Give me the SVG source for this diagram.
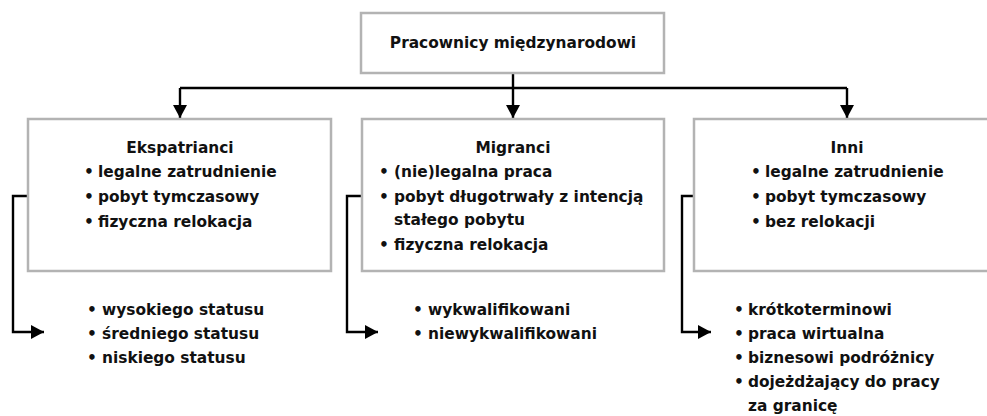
<svg xmlns="http://www.w3.org/2000/svg" width="987" height="416" viewBox="0 0 987 416">
<style>
.box{fill:#fff;stroke:#b3b3b3;stroke-width:2.5}
.t{font-family:"DejaVu Sans",sans-serif;font-weight:bold;font-size:15.4px;fill:#111}
.c{text-anchor:middle}
.b{text-anchor:middle}
.ln{fill:none;stroke:#000;stroke-width:2.4}
</style>
<defs>
<marker id="ah" markerUnits="userSpaceOnUse" viewBox="0 0 13 14" markerWidth="13" markerHeight="14" refX="13" refY="7" orient="auto">
<path d="M0,0 L13,7 L0,14 z" fill="#000"/>
</marker>
</defs>
<rect x="0" y="0" width="987" height="416" fill="#fff"/>
<g id="connectors">
<path class="ln" d="M513,73 V88"/>
<path class="ln" d="M180,88 H847"/>
<path class="ln" d="M180,88 V118" marker-end="url(#ah)"/>
<path class="ln" d="M513,88 V118" marker-end="url(#ah)"/>
<path class="ln" d="M847,88 V118" marker-end="url(#ah)"/>
<path class="ln" d="M28,196 H13 V332 H44" marker-end="url(#ah)"/>
<path class="ln" d="M362,196 H347 V332 H378" marker-end="url(#ah)"/>
<path class="ln" d="M694,196 H682 V332 H711" marker-end="url(#ah)"/>
</g>
<g id="root">
<rect class="box" x="361" y="13" width="303" height="60"/>
<text class="t c" x="513" y="48">Pracownicy międzynarodowi</text>
</g>
<g id="ekspatrianci">
<rect class="box" x="28" y="119" width="303" height="152"/>
<text class="t c" x="180" y="153">Ekspatrianci</text>
<text class="t b" x="89" y="177">•</text><text class="t" x="98" y="177">legalne zatrudnienie</text>
<text class="t b" x="89" y="202">•</text><text class="t" x="98" y="202">pobyt tymczasowy</text>
<text class="t b" x="89" y="227">•</text><text class="t" x="98" y="227">fizyczna relokacja</text>
</g>
<g id="migranci">
<rect class="box" x="362" y="119" width="302" height="152"/>
<text class="t c" x="513" y="153">Migranci</text>
<text class="t b" x="384" y="177">•</text><text class="t" x="394" y="177">(nie)legalna praca</text>
<text class="t b" x="384" y="202">•</text><text class="t" x="394" y="202">pobyt długotrwały z intencją</text>
<text class="t" x="394" y="225">stałego pobytu</text>
<text class="t b" x="384" y="250">•</text><text class="t" x="394" y="250">fizyczna relokacja</text>
</g>
<g id="inni">
<rect class="box" x="694" y="119" width="310" height="152"/>
<text class="t c" x="847" y="153">Inni</text>
<text class="t b" x="756" y="177">•</text><text class="t" x="765" y="177">legalne zatrudnienie</text>
<text class="t b" x="756" y="202">•</text><text class="t" x="765" y="202">pobyt tymczasowy</text>
<text class="t b" x="756" y="227">•</text><text class="t" x="765" y="227">bez relokacji</text>
</g>
<g id="ekspatrianci-typy">
<text class="t b" x="92" y="315">•</text><text class="t" x="102" y="315">wysokiego statusu</text>
<text class="t b" x="92" y="339">•</text><text class="t" x="102" y="339">średniego statusu</text>
<text class="t b" x="92" y="363">•</text><text class="t" x="102" y="363">niskiego statusu</text>
</g>
<g id="migranci-typy">
<text class="t b" x="418" y="315">•</text><text class="t" x="428" y="315">wykwalifikowani</text>
<text class="t b" x="418" y="339">•</text><text class="t" x="428" y="339">niewykwalifikowani</text>
</g>
<g id="inni-typy">
<text class="t b" x="739" y="315">•</text><text class="t" x="748" y="315">krótkoterminowi</text>
<text class="t b" x="739" y="339">•</text><text class="t" x="748" y="339">praca wirtualna</text>
<text class="t b" x="739" y="363">•</text><text class="t" x="748" y="363">biznesowi podróżnicy</text>
<text class="t b" x="739" y="387">•</text><text class="t" x="748" y="387">dojeżdżający do pracy</text>
<text class="t" x="748" y="411">za granicę</text>
</g>
</svg>
